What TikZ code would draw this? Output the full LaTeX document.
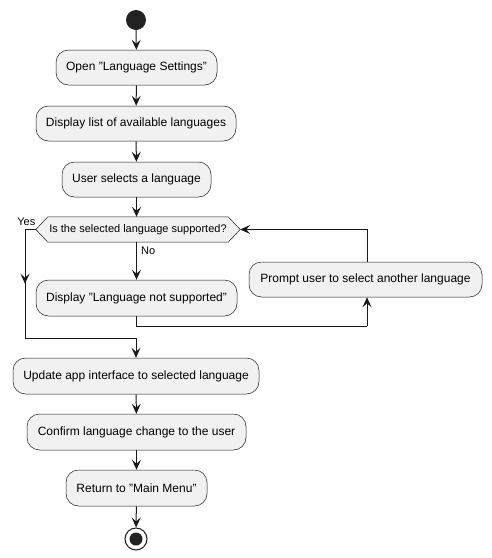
\documentclass[tikz,border=0pt]{standalone}
\usepackage{fontspec}
\setmainfont{Liberation Sans}
\usetikzlibrary{arrows.meta,backgrounds,decorations.markings}
\definecolor{lineC}{HTML}{181818}
\definecolor{fillC}{HTML}{F1F1F1}
\definecolor{dotC}{HTML}{222222}
\tikzset{
  act/.style={draw=lineC, line width=0.5pt, fill=fillC, rounded corners=12.5pt,
    font=\fontsize{12}{14}\selectfont, minimum height=35pt, inner sep=0pt, text=black},
  tip/.tip={Stealth[length=10pt,width=9pt,inset=4pt]},
  flow/.style={draw=lineC, line width=1pt, -tip},
  plain/.style={draw=lineC, line width=1pt},
  midtip/.style={postaction={decorate}, decoration={markings,
    mark=at position 0.5 with {\arrow{tip}}}},
  lbl/.style={font=\fontsize{11}{13}\selectfont, inner sep=0pt, text=black}
}
\begin{document}
\begin{tikzpicture}[x=1pt,y=-1pt]
\useasboundingbox (0,0) rectangle (492,558);
\node[circle, fill=dotC, minimum size=20pt, inner sep=0pt] (start) at (136,20) {};
\node[act, minimum width=161pt] (open) at (136.5,67.5) {Open "Language Settings"};
\node[act, minimum width=200pt] (list) at (136,123.5) {Display list of available languages};
\node[act, minimum width=149pt] (sel) at (136.5,179.5) {User selects a language};
\node[minimum width=204pt, minimum height=25pt, inner sep=0pt, font=\fontsize{11}{13}\selectfont] (dec) at (138,229.5) {Is the selected language supported?};
\begin{scope}[on background layer]
\filldraw[fill=fillC, draw=lineC, line width=0.5pt]
  (dec.west) -- ([xshift=12pt]dec.north west) -- ([xshift=-12pt]dec.north east)
  -- (dec.east) -- ([xshift=-12pt]dec.south east) -- ([xshift=12pt]dec.south west) -- cycle;
\end{scope}
\node[act, minimum width=201pt, minimum height=36pt] (nos) at (136.5,298) {Display "Language not supported"};
\node[act, minimum width=233pt] (prompt) at (365.5,279.5) {Prompt user to select another language};
\node[act, minimum width=246pt, minimum height=36pt] (upd) at (136,376) {Update app interface to selected language};
\node[act, minimum width=219pt, minimum height=36pt] (conf) at (136.5,432) {Confirm language change to the user};
\node[act, minimum width=141pt, minimum height=36pt] (ret) at (136.5,488) {Return to "Main Menu"};
\node[circle, draw=lineC, line width=1pt, fill=white, minimum size=22pt, inner sep=0pt] (end) at (136,539) {};
\fill[dotC] (end.center) circle (6.5pt);

\coordinate (ya) at (25,229.5);
\coordinate (yb) at (25,338);
\coordinate (yc) at (136,338);
\coordinate (na) at (136,326);
\coordinate (nb) at (367,326);
\coordinate (pa) at (367,229.5);

\draw[flow] (start) -- (open);
\draw[flow] (open) -- (list);
\draw[flow] (list) -- (sel);
\draw[flow] (sel.south) -- (sel.south |- dec.north);
\draw[flow] (sel.south |- dec.south) -- (nos.north -| sel.south);
\draw[plain] (dec.west) -- (ya);
\draw[plain, midtip] (ya) -- (yb);
\draw[plain] (yb) -- (yc);
\draw[flow] (yc) -- (upd.north -| yc);
\draw[plain] (nos.south -| na) -- (na) -- (nb);
\draw[flow] (nb) -- (prompt.south -| nb);
\draw[flow] (prompt.north -| pa) -- (pa) -- (dec.east);
\draw[flow] (upd) -- (conf);
\draw[flow] (conf) -- (ret);
\draw[flow] (ret) -- (end);

\node[lbl, anchor=east] (yes) at (35.5,222) {Yes};
\node[lbl, anchor=west] (no) at (141,251) {No};
\end{tikzpicture}
\end{document}
